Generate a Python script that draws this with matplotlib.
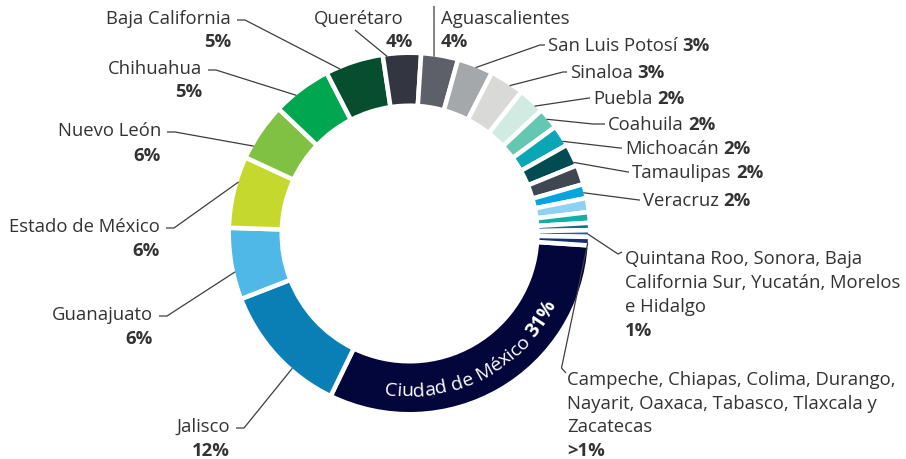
import numpy as np
import matplotlib.pyplot as plt
from matplotlib.font_manager import FontProperties

segments = ["Ciudad de México", "Jalisco", "Guanajuato", "Estado de México", "Nuevo León",
            "Chihuahua", "Baja California", "Querétaro", "Aguascalientes", "San Luis Potosí",
            "Sinaloa", "Puebla", "Coahuila", "Michoacán", "Tamaulipas", "(sin etiqueta)",
            "Veracruz", "(sin etiqueta 2)", "(sin etiqueta 3)", "(sin etiqueta 4)",
            "Quintana Roo, Sonora, BCS, Yucatán, Morelos e Hidalgo",
            "Campeche, Chiapas, Colima, Durango, Nayarit, Oaxaca, Tabasco, Tlaxcala y Zacatecas"]
shares = [31.1, 11.9, 6.4, 6.4, 5.2, 5.3, 5.2, 3.4, 3.3, 3.2, 3.1, 2.4, 1.9, 1.9, 2.0,
          1.75, 1.25, 1.25, 0.95, 0.65, 0.6, 0.75]
colors = ["#02063a", "#0a7fb6", "#50b8e7", "#c5d82e", "#80c143", "#00a650", "#064e2d",
          "#333640", "#5d6068", "#a5a8ab", "#d9d9d7", "#d1ebe3", "#64c7b1", "#0ba6b6",
          "#014b52", "#404753", "#04a4e0", "#8fd1f1", "#0fb1a3", "#0a7480", "#2a5f98", "#142f72"]

# printed labels
left_names = ["Baja California", "Chihuahua", "Nuevo León", "Estado de México", "Guanajuato", "Jalisco"]
left_pcts = ["5%", "5%", "6%", "6%", "6%", "12%"]
right_names = ["San Luis Potosí", "Sinaloa", "Puebla", "Coahuila", "Michoacán", "Tamaulipas", "Veracruz"]
right_pcts = ["3%", "3%", "2%", "2%", "2%", "2%", "2%"]
top_names = ["Querétaro", "Aguascalientes"]
top_pcts = ["4%", "4%"]
group1_lines = ["Quintana Roo, Sonora, Baja", "California Sur, Yucatán, Morelos", "e Hidalgo"]
group1_pct = "1%"
group2_lines = ["Campeche, Chiapas, Colima, Durango,", "Nayarit, Oaxaca, Tabasco, Tlaxcala y", "Zacatecas"]
group2_pct = ">1%"
center_name = "Ciudad de México "
center_pct = "31%"

fig = plt.figure(figsize=(9.06, 4.6), dpi=100)
ax = fig.add_axes([0, 0, 1, 1])
cx, cy = 409.5, 234.5
r_out, r_in = 178.5, 130
gap = 4.5

# y axis points down, so counterclock in data is clockwise on screen
ax.pie(shares, colors=colors, startangle=3.8, counterclock=True, radius=r_out + gap / 2,
       center=(cx, cy),
       wedgeprops=dict(width=r_out - r_in + gap, edgecolor="white", linewidth=gap * 0.72))
ax.set_xlim(0, 906)
ax.set_ylim(460, 0)
ax.set_aspect("auto")
ax.axis("off")

txt = "#333333"
lc = "#3d3d3d"
fs = 13.3
fam = "Open Sans"
dy = 2  # text baseline nudge
renderer = fig.canvas.get_renderer()


def anchor(deg):
    a = np.radians(deg)
    return cx + r_out * np.cos(a), cy - r_out * np.sin(a)


def leader(pts):
    xs, ys = zip(*pts)
    ax.plot(xs, ys, color=lc, lw=0.9, solid_capstyle="butt", zorder=3)


def width(s, prop):
    w = renderer.get_text_width_height_descent("x" + s + "x", prop, ismath=False)[0]
    w0 = renderer.get_text_width_height_descent("xx", prop, ismath=False)[0]
    return w - w0


fp_reg = FontProperties(family=fam, size=fs)
fp_bold = FontProperties(family=fam, size=fs, weight="bold")

# left side labels: name above, bold percent below, right aligned
left_pos = [(231, 17, 40, 112.9), (202, 67, 90, 129.3), (161, 129, 154, 150.7),
            (160, 225, 249, 163.2), (153, 313, 337, 192.4), (230, 425, 449, 229.0)]
for name, pct, (x, y, y2, ang) in zip(left_names, left_pcts, left_pos):
    ax.text(x, y + dy, name, ha="right", va="center", fontproperties=fp_reg, color=txt)
    ax.text(x, y2 + dy, pct, ha="right", va="center", fontproperties=fp_bold, color=txt)
    leader([(x + 6, y + 4), (x + 14, y + 4), anchor(ang)])

# right side labels: name and bold percent on one line
right_pos = [(548, 44, 68.3, 8), (570, 71, 55.9, 7), (593, 97, 45.5, 4), (608, 123, 39.8, 15),
             (625, 147, 31.1, 5), (632, 171, 23.5, 4), (643, 199, 13.2, 4)]
for name, pct, (x, y, ang, el) in zip(right_names, right_pcts, right_pos):
    ax.text(x, y + dy, name, ha="left", va="center", fontproperties=fp_reg, color=txt)
    ax.text(x + width(name + " ", fp_reg), y + dy, pct, ha="left", va="center",
            fontproperties=fp_bold, color=txt)
    leader([anchor(ang), (x - el, y + 2), (x - 3, y + 2)])

# top labels
ax.text(404, 17 + dy, top_names[0], ha="right", va="center", fontproperties=fp_reg, color=txt)
ax.text(413, 40 + dy, top_pcts[0], ha="right", va="center", fontproperties=fp_bold, color=txt)
leader([(355, 31), anchor(97.2)])
ax.text(441, 17 + dy, top_names[1], ha="left", va="center", fontproperties=fp_reg, color=txt)
ax.text(441, 40 + dy, top_pcts[1], ha="left", va="center", fontproperties=fp_bold, color=txt)
leader([(434, 7), anchor(82.1)])

# grouped small states
for i, line in enumerate(group1_lines):
    ax.text(625, 257 + dy + 24 * i, line, ha="left", va="center", fontproperties=fp_reg, color=txt)
ax.text(625, 257 + dy + 24 * 3, group1_pct, ha="left", va="center", fontproperties=fp_bold, color=txt)
leader([anchor(-0.2), (618, 255), (622, 253)])

for i, line in enumerate(group2_lines):
    ax.text(567, 378 + dy + 23.7 * i, line, ha="left", va="center", fontproperties=fp_reg, color=txt)
ax.text(567, 378 + dy + 23.7 * 3, group2_pct, ha="left", va="center", fontproperties=fp_bold, color=txt)
leader([anchor(-3.0), (561.5, 369), (566, 374)])

# curved label inside the Ciudad de México segment
fp_c = FontProperties(family=fam, size=14)
fp_cb = FontProperties(family=fam, size=14, weight="bold")
chars = [(c, fp_c) for c in center_name] + [(c, fp_cb) for c in center_pct]
ws = [width(c, p) for c, p in chars]
r_txt = 162.0
mid = np.radians(-62.3)
a0 = mid - (sum(ws) / 2) / r_txt
s = 0.0
for (c, p), w in zip(chars, ws):
    a = a0 + (s + w / 2) / r_txt
    s += w
    if c == " ":
        continue
    ax.text(cx + r_txt * np.cos(a), cy - r_txt * np.sin(a), c, fontproperties=p, color="white",
            ha="center", va="baseline", rotation=np.degrees(a) + 90, rotation_mode="anchor")

plt.savefig("out.png", dpi=100)
